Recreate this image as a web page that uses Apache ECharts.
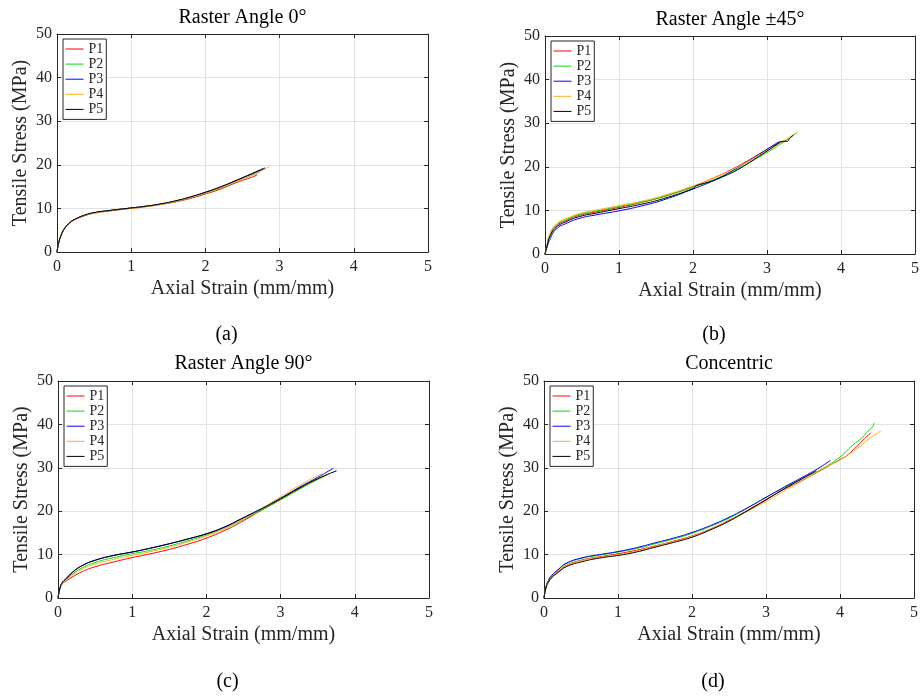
<!DOCTYPE html>
<html>
<head>
<meta charset="utf-8">
<script src="https://cdn.jsdelivr.net/npm/echarts@6/dist/echarts.min.js"></script>
<style>html,body{margin:0;padding:0;background:#fff}#c{width:922px;height:696px}</style>
</head>
<body>
<div id="c"></div>
<script>
// ---- Data: [axial strain (mm/mm), tensile stress (MPa)] ----
// (a) Raster Angle 0°
const a_P1 = [[0,0],[0.02,1.8],[0.05,3.5],[0.1,5.3],[0.17,6.6],[0.24,7.4],[0.37,8.3],[0.5,8.9],[0.7,9.4],[1.0,10.0],[1.2,10.4],[1.4,10.9],[1.6,11.5],[1.8,12.3],[2.0,13.3],[2.2,14.4],[2.4,15.8],[2.6,17.0],[2.7,17.7]];
const a_P2 = [[0,0],[0.02,1.9],[0.05,3.6],[0.1,5.4],[0.17,6.7],[0.24,7.5],[0.37,8.4],[0.5,9.0],[0.7,9.5],[1.0,10.1],[1.2,10.5],[1.4,11.0],[1.6,11.6],[1.8,12.5],[2.0,13.5],[2.2,14.6],[2.4,16.0],[2.6,17.4],[2.73,18.3]];
const a_P3 = [[0,0],[0.02,1.9],[0.05,3.6],[0.1,5.3],[0.17,6.7],[0.24,7.5],[0.37,8.4],[0.5,9.0],[0.7,9.5],[1.0,10.1],[1.2,10.5],[1.4,11.0],[1.6,11.7],[1.8,12.6],[2.0,13.7],[2.2,14.9],[2.4,16.3],[2.6,17.7],[2.8,19.1]];
const a_P4 = [[0,0],[0.02,1.9],[0.05,3.6],[0.1,5.4],[0.17,6.7],[0.24,7.5],[0.37,8.4],[0.5,8.9],[0.7,9.4],[1.0,10.0],[1.2,10.4],[1.4,10.9],[1.6,11.6],[1.8,12.5],[2.0,13.5],[2.2,14.7],[2.4,16.0],[2.6,17.4],[2.8,19.0],[2.86,19.6]];
const a_P5 = [[0,0],[0.02,1.9],[0.05,3.6],[0.1,5.4],[0.17,6.7],[0.24,7.5],[0.37,8.45],[0.5,9.05],[0.7,9.5],[1.0,10.1],[1.2,10.5],[1.4,11.05],[1.6,11.75],[1.8,12.65],[2.0,13.7],[2.2,14.9],[2.4,16.3],[2.6,17.8],[2.8,19.3]];
// (b) Raster Angle ±45°
const b_P1 = [[0,0],[0.03,2.1],[0.06,4.0],[0.15,6.4],[0.3,7.8],[0.47,8.9],[0.7,9.7],[1.0,10.7],[1.3,11.8],[1.6,13.2],[2.0,15.5],[2.3,17.6],[2.5,19.2],[2.7,21.0],[2.9,23.0],[3.1,25.0],[3.18,25.6],[3.25,26.0]];
const b_P2 = [[0,0],[0.03,2.2],[0.06,4.2],[0.15,6.6],[0.3,8.0],[0.47,9.1],[0.7,9.9],[1.0,10.9],[1.3,11.9],[1.6,13.1],[2.0,15.3],[2.3,17.2],[2.5,18.7],[2.7,20.4],[2.9,22.3],[3.1,24.3],[3.2,25.4],[3.3,26.6],[3.41,27.9]];
const b_P3 = [[0,0],[0.03,1.7],[0.06,3.1],[0.15,5.7],[0.3,7.1],[0.47,8.2],[0.7,9.0],[1.0,9.9],[1.3,11.0],[1.6,12.4],[2.0,14.9],[2.3,17.0],[2.5,18.8],[2.7,20.8],[2.9,22.9],[3.0,24.0],[3.1,25.1],[3.15,25.6],[3.2,25.8]];
const b_P4 = [[0,0],[0.03,2.3],[0.06,4.4],[0.15,6.8],[0.3,8.2],[0.47,9.3],[0.7,10.1],[1.0,11.1],[1.3,12.1],[1.6,13.4],[2.0,15.6],[2.3,17.6],[2.5,19.1],[2.7,20.8],[2.9,22.7],[3.1,24.7],[3.25,26.2],[3.38,27.6]];
const b_P5 = [[0,0],[0.03,2.0],[0.06,3.8],[0.15,6.1],[0.3,7.5],[0.47,8.6],[0.7,9.4],[1.0,10.4],[1.3,11.4],[1.6,12.7],[2.0,15.0],[2.05,15.7],[2.2,16.4],[2.4,17.7],[2.6,19.3],[2.8,21.4],[3.0,23.6],[3.15,25.3],[3.2,25.8],[3.28,25.9],[3.3,26.4],[3.36,27.3]];
// (c) Raster Angle 90°
const c_P1 = [[0,0],[0.03,2.3],[0.06,3.3],[0.1,3.8],[0.2,4.9],[0.33,6.1],[0.5,7.2],[0.75,8.3],[1.0,9.3],[1.25,10.2],[1.5,11.2],[1.75,12.4],[2.0,13.8],[2.25,15.6],[2.5,17.8],[2.75,20.3],[3.0,22.7],[3.25,25.2],[3.5,27.4],[3.63,28.4]];
const c_P2 = [[0,0],[0.03,2.4],[0.06,3.5],[0.1,4.1],[0.2,5.6],[0.33,7.0],[0.5,8.2],[0.75,9.3],[1.0,10.2],[1.25,11.0],[1.5,12.0],[1.75,13.2],[2.0,14.5],[2.25,16.1],[2.5,18.1],[2.75,20.3],[3.0,22.6],[3.25,25.0],[3.5,27.3],[3.64,28.5]];
const c_P3 = [[0,0],[0.03,2.5],[0.06,3.6],[0.1,4.3],[0.2,6.0],[0.33,7.5],[0.5,8.7],[0.75,9.8],[1.0,10.6],[1.25,11.5],[1.5,12.5],[1.75,13.6],[2.0,14.8],[2.25,16.4],[2.5,18.5],[2.75,20.7],[3.0,23.0],[3.25,25.5],[3.5,27.8],[3.71,29.9]];
const c_P4 = [[0,0],[0.03,2.4],[0.06,3.4],[0.1,3.9],[0.2,5.3],[0.33,6.7],[0.5,7.8],[0.75,8.9],[1.0,9.8],[1.25,10.7],[1.5,11.7],[1.75,12.9],[2.0,14.3],[2.25,16.0],[2.5,18.2],[2.75,20.7],[3.0,23.3],[3.25,25.9],[3.5,28.2],[3.6,28.8]];
const c_P5 = [[0,0],[0.03,2.5],[0.06,3.6],[0.1,4.3],[0.2,6.0],[0.33,7.5],[0.5,8.7],[0.75,9.8],[1.0,10.6],[1.25,11.5],[1.5,12.5],[1.75,13.6],[2.0,14.8],[2.25,16.4],[2.5,18.5],[2.75,20.6],[3.0,22.9],[3.25,25.3],[3.5,27.5],[3.755,29.3]];
// (d) Concentric
const d_P1 = [[0,0],[0.03,2.7],[0.06,3.8],[0.1,4.8],[0.2,6.3],[0.3,7.5],[0.5,8.7],[0.75,9.5],[1.0,10.2],[1.25,11.0],[1.5,12.0],[1.75,13.1],[2.0,14.3],[2.25,15.9],[2.5,17.9],[2.75,20.2],[3.0,22.7],[3.25,25.1],[3.5,27.2],[3.75,29.5],[4.0,31.9],[4.1,32.9],[4.22,34.8],[4.33,36.7],[4.42,38.1]];
const d_P2 = [[0,0],[0.03,2.8],[0.06,4.0],[0.1,5.0],[0.2,6.6],[0.3,7.9],[0.5,9.1],[0.75,9.9],[1.0,10.6],[1.25,11.4],[1.5,12.5],[1.75,13.6],[2.0,14.9],[2.25,16.5],[2.5,18.4],[2.75,20.7],[3.0,23.2],[3.25,25.5],[3.5,27.6],[3.75,29.7],[4.0,32.5],[4.17,35.2],[4.31,37.1],[4.38,38.5],[4.43,39.2],[4.45,39.8],[4.46,40.4]];
const d_P3 = [[0,0],[0.03,2.8],[0.06,4.0],[0.1,5.1],[0.2,6.7],[0.3,8.0],[0.5,9.2],[0.75,10.0],[1.0,10.7],[1.25,11.6],[1.5,12.7],[1.75,13.8],[2.0,15.1],[2.25,16.7],[2.5,18.6],[2.75,20.8],[3.0,23.2],[3.25,25.6],[3.5,27.9],[3.7,29.8],[3.87,31.7]];
const d_P4 = [[0,0],[0.03,2.6],[0.06,3.7],[0.1,4.7],[0.2,6.2],[0.3,7.4],[0.5,8.6],[0.75,9.4],[1.0,10.0],[1.25,10.8],[1.5,11.9],[1.75,13.0],[2.0,14.2],[2.25,15.8],[2.5,17.8],[2.75,20.0],[3.0,22.2],[3.25,24.7],[3.5,27.1],[3.75,29.6],[4.0,31.8],[4.1,32.9],[4.26,34.8],[4.39,36.7],[4.55,38.4]];
const d_P5 = [[0,0],[0.03,2.5],[0.06,3.6],[0.1,4.6],[0.2,6.0],[0.3,7.2],[0.5,8.3],[0.75,9.2],[1.0,9.8],[1.25,10.6],[1.5,11.7],[1.75,12.8],[2.0,14.0],[2.25,15.7],[2.5,17.7],[2.75,20.1],[3.0,22.6],[3.25,25.2],[3.5,27.6],[3.68,29.3]];

const seriesNames = ['P1','P2','P3','P4','P5'];
const panelTitles = ['Raster Angle 0°','Raster Angle ±45°','Raster Angle 90°','Concentric'];
const panelCaptions = ['(a)','(b)','(c)','(d)'];
const xAxisName = 'Axial Strain (mm/mm)';
const yAxisName = 'Tensile Stress (MPa)';
const xTicks = {min:0, max:5, interval:1};
const yTicks = {min:0, max:50, interval:10};
const panels = [
  [a_P1,a_P2,a_P3,a_P4,a_P5],
  [b_P1,b_P2,b_P3,b_P4,b_P5],
  [c_P1,c_P2,c_P3,c_P4,c_P5],
  [d_P1,d_P2,d_P3,d_P4,d_P5]
];

// ---- Styling / layout ----
const colors = ['#ff0000','#00e000','#0000ff','#ffb020','#000000'];
const FONT = 'Liberation Serif';
const INK = '#262626';
const grids = [
  {left:57, top:34, width:371, height:218},
  {left:545, top:36, width:370, height:218},
  {left:58, top:381, width:371, height:217},
  {left:544, top:381, width:370, height:217}
];
const titleY = [8, 10, 354, 354];
const captionY = [325, 325, 672, 672];

const option = {
  animation:false,
  backgroundColor:'#fff',
  grid: grids.map(g => Object.assign({containLabel:false}, g)),
  title: [],
  legend: [],
  xAxis: [],
  yAxis: [],
  series: []
};

grids.forEach((g, i) => {
  const cx = g.left + g.width / 2;
  option.title.push({text: panelTitles[i], left: cx, top: titleY[i], textAlign:'center', padding:0,
    textStyle:{fontFamily:FONT, fontSize:20, fontWeight:'normal', color:'#000'}});
  option.title.push({text: panelCaptions[i], left: cx - 16, top: captionY[i], textAlign:'center', padding:0,
    textStyle:{fontFamily:FONT, fontSize:20, fontWeight:'normal', color:'#000'}});
  option.legend.push({data: seriesNames, orient:'vertical', left: g.left + 6, top: g.top + 5,
    itemWidth:18, itemHeight:12, itemGap:1.1, padding:[3,3,3,2],
    itemStyle:{opacity:0, borderWidth:0},
    lineStyle:{width:1},
    borderColor:INK, borderWidth:1, backgroundColor:'#fff', borderRadius:0,
    textStyle:{fontFamily:FONT, fontSize:14, color:INK}});
  option.xAxis.push(Object.assign({type:'value', gridIndex:i, position:'bottom',
    name:xAxisName, nameLocation:'middle', nameGap:27,
    nameTextStyle:{fontFamily:FONT, fontSize:20, color:INK},
    axisLine:{show:true, onZero:false, lineStyle:{color:INK, width:1}},
    axisTick:{show:true, inside:true, length:4, lineStyle:{color:INK}},
    axisLabel:{fontFamily:FONT, fontSize:16, color:INK, margin:7},
    splitLine:{show:true, lineStyle:{color:'#e2e2e2', width:1}}}, xTicks));
  option.yAxis.push(Object.assign({type:'value', gridIndex:i, position:'left',
    name:yAxisName, nameLocation:'middle', nameGap:26,
    nameTextStyle:{fontFamily:FONT, fontSize:20, color:INK},
    axisLine:{show:true, onZero:false, lineStyle:{color:INK, width:1}},
    axisTick:{show:true, inside:true, length:4, lineStyle:{color:INK}},
    axisLabel:{fontFamily:FONT, fontSize:16, color:INK, margin:5},
    splitLine:{show:true, lineStyle:{color:'#e2e2e2', width:1}}}, yTicks));
});
// mirrored (box) axes
grids.forEach((g, i) => {
  option.xAxis.push(Object.assign({type:'value', gridIndex:i, position:'top',
    axisLine:{show:true, onZero:false, lineStyle:{color:INK, width:1}},
    axisTick:{show:true, inside:true, length:4, lineStyle:{color:INK}},
    axisLabel:{show:false}, splitLine:{show:false}}, xTicks));
  option.yAxis.push(Object.assign({type:'value', gridIndex:i, position:'right',
    axisLine:{show:true, onZero:false, lineStyle:{color:INK, width:1}},
    axisTick:{show:true, inside:true, length:4, lineStyle:{color:INK}},
    axisLabel:{show:false}, splitLine:{show:false}}, yTicks));
});

panels.forEach((panel, i) => {
  panel.forEach((data, k) => {
    option.series.push({
      type:'line', name:seriesNames[k], xAxisIndex:i, yAxisIndex:i,
      data:data, symbol:'none', showSymbol:false, smooth:0.5,
      color:colors[k], lineStyle:{color:colors[k], width:1}, z:2 + k
    });
  });
});

const chart = echarts.init(document.getElementById('c'), null, {renderer:'canvas'});
chart.setOption(option);
</script>
</body>
</html>
